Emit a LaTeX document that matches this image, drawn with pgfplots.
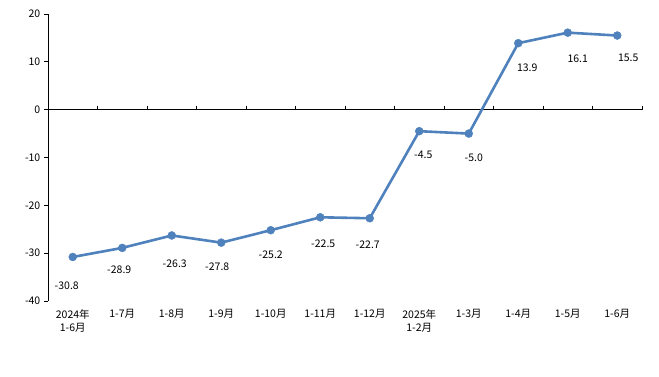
\documentclass[border=0pt]{standalone}
\usepackage{fontspec}
\setmainfont{Noto Sans CJK SC}
\usepackage{pgfplots}
\usepackage{pgfplotstable}
\pgfplotsset{compat=1.18}
\definecolor{lineblue}{HTML}{4F81BD}
\pgfplotstableread{
x y dx dy
0 -30.8 -6 -29
1 -28.9 -3 -22
2 -26.3 3 -28
3 -27.8 -4 -24
4 -25.2 0 -25
5 -22.5 3 -26
6 -22.7 -2 -27
7 -4.5 4 -24
8 -5.0 5 -24
9 13.9 9 -25
10 16.1 10 -26
11 15.5 11 -22
}\datatable
\begin{document}
\fontsize{10.5}{13}\selectfont
\begin{tikzpicture}
\path (0pt,0pt) rectangle (659pt,377pt);
\begin{axis}[
  at={(48pt,76pt)}, anchor=south west,
  scale only axis, width=594pt, height=287pt,
  xmin=-0.5, xmax=11.5, ymin=-40, ymax=20,
  axis y line*=left, axis x line*=bottom,
  x axis line style={draw=none},
  xtick={0,...,11},
  xticklabels={{2024年\\1-6月},1-7月,1-8月,1-9月,1-10月,1-11月,1-12月,{2025年\\1-2月},1-3月,1-4月,1-5月,1-6月},
  xticklabel style={align=center, font=\fontsize{10.5}{13}\selectfont, anchor=north, yshift=-1pt},
  major x tick style={draw=none},
  ytick={-40,-30,...,20},
  yticklabel style={font=\fontsize{10.5}{13}\selectfont},
  /pgf/number format/assume math mode=true,
  tick align=outside,
  major tick length=4pt,
  clip=false,
  axis line style={black, line width=0.8pt},
  every tick/.style={black, line width=0.8pt},
]
\draw[black, line width=0.8pt] (axis cs:-0.5,0) -- (axis cs:11.5,0);
\pgfplotsinvokeforeach{0.5,1.5,2.5,3.5,4.5,5.5,6.5,7.5,8.5,9.5,10.5,11.5}{
  \draw[black, line width=0.8pt] (axis cs:#1,0) -- ++(0pt,4pt);
}
\addplot[color=lineblue, line width=2.6pt, mark=*, mark size=4pt,
  mark options={solid, fill=lineblue, draw=lineblue, line width=0.4pt},
  nodes near coords,
  visualization depends on={\thisrow{dx} \as \dx},
  visualization depends on={\thisrow{dy} \as \dy},
  every node near coord/.style={anchor=center, xshift=\dx pt, yshift=\dy pt,
    font=\fontsize{10.5}{13}\selectfont, text=black, fill=none},
  point meta=explicit symbolic,
] table[x=x, y=y, meta=y] {\datatable};
\end{axis}
\end{tikzpicture}
\end{document}
